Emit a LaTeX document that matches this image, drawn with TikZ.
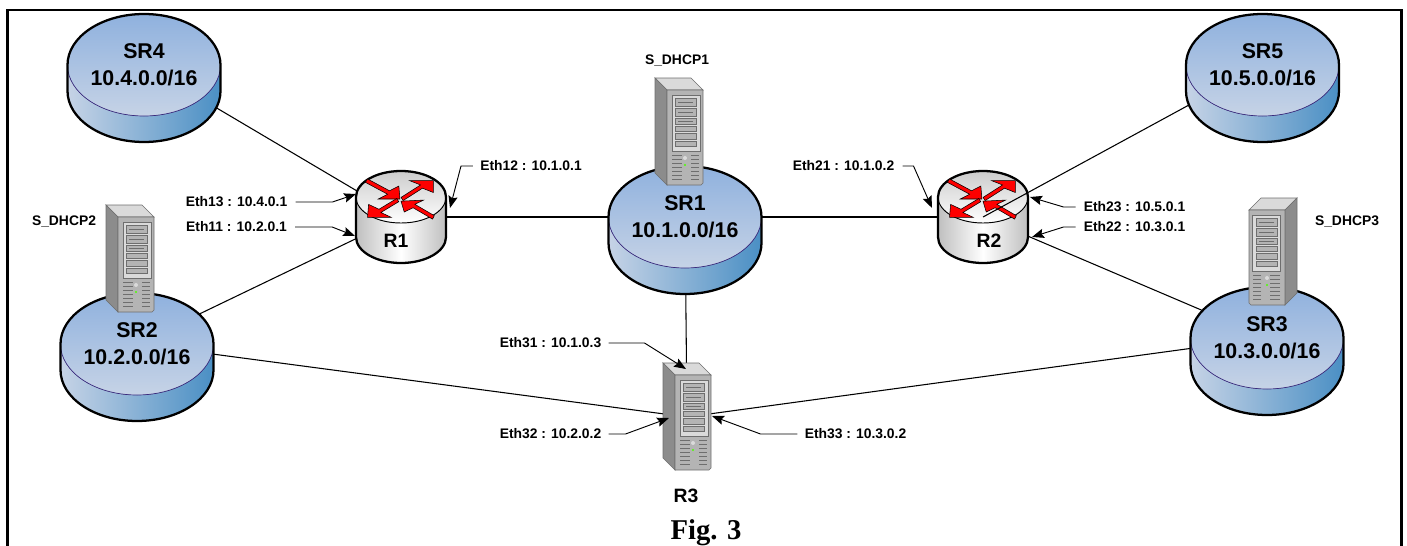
\documentclass[tikz,border=0pt]{standalone}
\usepackage{fontspec}
\setmainfont{Liberation Sans}
\newfontfamily\captionserif{Liberation Serif}
\usetikzlibrary{arrows.meta}
\definecolor{disktop}{HTML}{8FB1DE}
\definecolor{diskmid}{HTML}{C6D3E6}
\definecolor{diskblue}{HTML}{4A8FC4}
\definecolor{diskedge}{HTML}{3A2A80}
\definecolor{srvdark}{HTML}{8C8C8C}
\definecolor{srvface}{HTML}{B4B4B4}
\definecolor{srvtop}{HTML}{DADADA}
\definecolor{srvline}{HTML}{6E6E6E}
\begin{document}
\begin{tikzpicture}[
x=0.75pt,y=-0.75pt,
link/.style={line width=0.8pt},
tag/.style={line width=0.7pt,-{Stealth[length=9pt,width=7pt,inset=1.5pt]}},
eth/.style={font=\fontsize{10.4}{12}\selectfont\bfseries,inner sep=0pt},
routertext/.style={font=\fontsize{14.5}{16}\selectfont\bfseries,inner sep=0pt},
slot/.style={draw=srvline,fill=srvface,line width=0.4pt},
pics/disk/.style={code={
  \fill[left color=diskmid,right color=diskblue,middle color=diskmid!50!diskblue]
    (-76.5,0) -- (-76.5,26) arc (180:0:76.5 and 51) -- (76.5,0) -- cycle;
  \fill[top color=disktop,bottom color=diskmid] (0,0) ellipse (76.5 and 51);
  \draw[diskedge,line width=0.5pt] (-76.5,0) arc (180:0:76.5 and 51);
  \draw[line width=1.7pt] (-76.5,0) arc (180:360:76.5 and 51) -- (76.5,26) arc (0:180:76.5 and 51) -- cycle;
  \node[align=center,font=\fontsize{16}{20}\selectfont\bfseries,inner sep=0pt] (-text) at (0,0) {#1};
}},
pics/router/.style={code={
  \fill[left color=gray!50,right color=gray!50,middle color=white]
    (-45,-20) -- (-45,20) arc (180:0:45 and 26) -- (45,-20) -- cycle;
  \fill[top color=gray!40,bottom color=white] (0,-20) ellipse (45 and 26);
  \draw[line width=0.7pt] (-45,-20) arc (180:0:45 and 26);
  \draw[line width=1.7pt] (-45,-20) arc (180:360:45 and 26) -- (45,20) arc (0:180:45 and 26) -- cycle;
  \begin{scope}[shift={(0,-18)},scale=1.08,fill=red,draw=black,line width=0.4pt]
    \filldraw (-32.9,-15.4) -- (-12.4,-4.4) -- (-21,0) -- (-1,0) -- (-2,-12) -- (-10.6,-7.6) -- (-31.1,-18.6) -- cycle;
    \filldraw (1.9,1.5) -- (19.9,-10) -- (30,-6) -- (30,-17) -- (8,-17) -- (18.1,-13) -- (0.1,-1.5) -- cycle;
    \filldraw (-2.1,2.5) -- (-18.6,12.5) -- (-9,17) -- (-31,17) -- (-30,5) -- (-20.4,9.5) -- (-3.9,-0.5) -- cycle;
    \filldraw (29.2,18.6) -- (11.2,8.1) -- (3,12) -- (0,2) -- (21,1) -- (12.8,4.9) -- (30.8,15.4) -- cycle;
  \end{scope}
}},
pics/server/.style={code={
  \filldraw[draw=srvline,fill=srvtop,line width=0.5pt] (0,0) -- (36,0) -- (48,12) -- (12,12) -- cycle;
  \filldraw[draw=srvline,fill=srvdark,line width=0.5pt] (0,0) -- (12,12) -- (12,107) -- (0,95) -- cycle;
  \filldraw[draw=srvline,fill=srvface,line width=0.5pt] (12,12) -- (48,12) -- (48,105) -- (46,107) -- (12,107) -- cycle;
  \filldraw[draw=srvline,fill=srvtop,line width=0.4pt] (17,17) rectangle (45,73);
  \filldraw[slot] (20,20) rectangle (41,28);
  \filldraw[slot] (20,30) rectangle (41,38);
  \filldraw[slot] (20,40) rectangle (41,46);
  \filldraw[slot] (20,48) rectangle (41,53);
  \filldraw[slot] (20,55) rectangle (41,61);
  \filldraw[slot] (20,63) rectangle (41,68);
  \draw[srvline,line width=0.5pt] (23,24) -- (38,24);
  \draw[srvline,line width=0.5pt] (23,34) -- (38,34);
  \draw[srvline,line width=0.5pt] (23,43) -- (38,43);
  \foreach \y in {77,81,...,101} {
    \draw[srvline,line width=0.6pt] (17,\y) -- (27,\y);
    \draw[srvline,line width=0.6pt] (36,\y) -- (44,\y);
  }
  \fill[srvtop] (30,80) circle (2);
  \fill[green!70!yellow] (30,87) circle (1.2);
}}
]
\useasboundingbox (0,0) rectangle (1407,546);
\draw[line width=2pt] (7.5,546) -- (7.5,10) -- (1401.5,10) -- (1401.5,546);
% network centres
\coordinate (SR1) at (685,217);
\coordinate (SR2) at (137,344);
\coordinate (SR3) at (1267,338);
\coordinate (SR4) at (144,65);
\coordinate (SR5) at (1262.5,65);
\coordinate (R1) at (401,217);
\coordinate (R2) at (983,217);
\coordinate (R3) at (687,417);
% links
\draw[link] (SR4) -- (R1);
\draw[link] (SR2) -- (R1);
\draw[link] (R1) -- (SR1);
\draw[link] (SR1) -- (R2);
\draw[link] (SR3) -- (R2);
\draw[link] (SR1) -- (R3);
\draw[link] (SR2) -- (R3);
\draw[link] (SR3) -- (R3);
\pic at (R1) {router};
\pic at (R2) {router};
\draw[link] (SR5) -- (R2);
\pic (SR1) at (SR1) {disk={SR1\\10.1.0.0/16}};
\pic (SR2) at (SR2) {disk={SR2\\10.2.0.0/16}};
\pic (SR3) at (SR3) {disk={SR3\\10.3.0.0/16}};
\pic (SR4) at (SR4) {disk={SR4\\10.4.0.0/16}};
\pic (SR5) at (SR5) {disk={SR5\\10.5.0.0/16}};
\pic at (655,78) {server};
\pic at (106,205) {server};
\pic[xscale=-1] at (1297,198) {server};
\pic at (663,363) {server};
\node[routertext] (R1text) at (396,241) {R1};
\node[routertext] (R2text) at (989,241) {R2};
\node[routertext] (R3text) at (686,496) {R3};
\node[eth] (dhcp1) at (677,61) {S\_DHCP1};
\node[eth] (dhcp2) at (64,222) {S\_DHCP2};
\node[eth] (dhcp3) at (1347,222) {S\_DHCP3};
% interface labels
\node[eth] (eth13) at (236.5,202) {Eth13 : 10.4.0.1};
\node[eth] (eth11) at (236.5,227) {Eth11 : 10.2.0.1};
\node[eth] (eth12) at (531,166) {Eth12 : 10.1.0.1};
\node[eth] (eth21) at (843.5,166) {Eth21 : 10.1.0.2};
\node[eth] (eth23) at (1134.5,207) {Eth23 : 10.5.0.1};
\node[eth] (eth22) at (1134.5,227) {Eth22 : 10.3.0.1};
\node[eth] (eth31) at (550.5,343) {Eth31 : 10.1.0.3};
\node[eth] (eth32) at (550.5,434) {Eth32 : 10.2.0.2};
\node[eth] (eth33) at (855.5,434) {Eth33 : 10.3.0.2};
\coordinate (tip13) at (356,194);
\coordinate (tip11) at (355,236);
\coordinate (tip12) at (450,208);
\coordinate (tip21) at (932,208);
\coordinate (tip23) at (1030,197);
\coordinate (tip22) at (1032,237);
\coordinate (tip31) at (686,369);
\coordinate (tip32) at (669,418);
\coordinate (tip33) at (712,416);
\draw[tag] (eth13.east) ++(8,0) -- ++(37,0) -- (tip13);
\draw[tag] (eth11.east) ++(8,0) -- ++(37,0) -- (tip11);
\draw[tag] (eth12.west) ++(-7,0) -- ++(-12,0) -- (tip12);
\draw[tag] (eth21.east) ++(8,0) -- ++(11,0) -- (tip21);
\draw[tag] (eth23.west) ++(-8,0) -- ++(-12,0) -- (tip23);
\draw[tag] (eth22.west) ++(-8,0) -- ++(-12,0) -- (tip22);
\draw[tag] (eth31.east) ++(7,0) -- ++(36,0) -- (tip31);
\draw[tag] (eth32.east) ++(7,0) -- ++(17,0) -- (tip32);
\draw[tag] (eth33.west) ++(-7,0) -- ++(-37,0) -- (tip33);
\node[font=\captionserif\fontsize{21.5}{24}\selectfont\bfseries,inner sep=0pt,anchor=base] (caption) at (706,539.5) {Fig. 3};
\end{tikzpicture}
\end{document}
